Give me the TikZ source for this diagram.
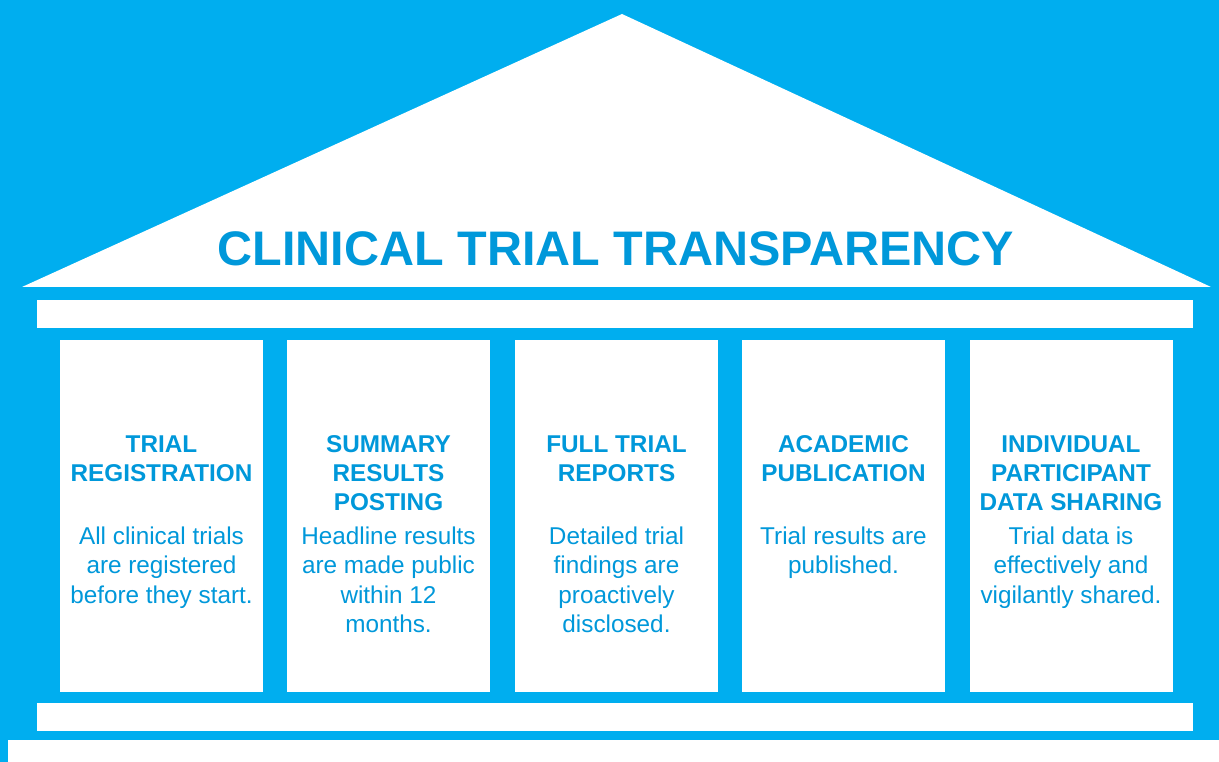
\documentclass[tikz,border=0pt]{standalone}
\usepackage{fontspec}
\setmainfont{Liberation Sans}
\definecolor{bgblue}{RGB}{0,174,239}
\definecolor{txtblue}{RGB}{0,152,218}
\begin{document}
\begin{tikzpicture}[x=1pt,y=-1pt,
  whitepart/.style={fill=white,draw=none},
  head/.style={anchor=base,align=center,text=txtblue,inner sep=0pt,
    font=\fontsize{24.3}{29.3}\selectfont\bfseries},
  body/.style={anchor=base,align=center,text=txtblue,inner sep=0pt,
    font=\fontsize{24.3}{29.3}\selectfont},
  pillar/.style={fill=white,draw=none,minimum width=203pt,minimum height=352pt,inner sep=0pt}]
\useasboundingbox (0,0) rectangle (1219,762);
\fill[bgblue] (0,0) rectangle (1219,762);
% bottom white strip
\fill[white] (8,740) rectangle (1219,762);
% roof
\fill[white] (22,287) -- (622,14) -- (1211,287) -- cycle;
\node[anchor=base,text=txtblue,inner sep=0pt,font=\fontsize{48.5}{48.5}\selectfont\bfseries] (title) at (616,266) {CLINICAL TRIAL TRANSPARENCY};
% beams
\node[whitepart,minimum width=1156pt,minimum height=28pt,inner sep=0pt] (topbeam) at (615,314) {};
\node[whitepart,minimum width=1156pt,minimum height=28pt,inner sep=0pt] (botbeam) at (615,717) {};
% pillars
\node[pillar] (p1) at (161.5,516) {};
\node[pillar] (p2) at (388.5,516) {};
\node[pillar] (p3) at (616.5,516) {};
\node[pillar] (p4) at (843.5,516) {};
\node[pillar] (p5) at (1071,516) {};
% texts (anchor base = last line's baseline)
\node[head] (h1) at (161.5,481.3) {TRIAL\\REGISTRATION};
\node[body] (b1) at (161.5,603) {All clinical trials\\are registered\\before they start.};
\node[head] (h2) at (388.5,510.6) {SUMMARY\\RESULTS\\POSTING};
\node[body] (b2) at (388.5,632.3) {Headline results\\are made public\\within 12\\months.};
\node[head] (h3) at (616.5,481.3) {FULL TRIAL\\REPORTS};
\node[body] (b3) at (616.5,632.3) {Detailed trial\\findings are\\proactively\\disclosed.};
\node[head] (h4) at (843.5,481.3) {ACADEMIC\\PUBLICATION};
\node[body] (b4) at (843.5,573.7) {Trial results are\\published.};
\node[head] (h5) at (1071,510.6) {INDIVIDUAL\\PARTICIPANT\\DATA SHARING};
\node[body] (b5) at (1071,603) {Trial data is\\effectively and\\vigilantly shared.};
\end{tikzpicture}
\end{document}
